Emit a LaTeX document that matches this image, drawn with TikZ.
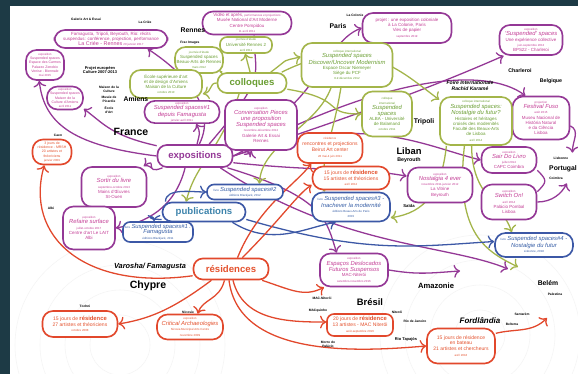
\documentclass[tikz,border=0pt]{standalone}
\usepackage{fontspec}
\setmainfont{Liberation Sans}
\usetikzlibrary{calc,arrows.meta}

\pgfdeclarelayer{fond}
\pgfdeclarelayer{liens}
\pgfsetlayers{fond,liens,main}

\definecolor{fondc}{RGB}{29,58,69}
\definecolor{expoc}{RGB}{148,56,150}
\definecolor{expot}{RGB}{196,62,150}
\definecolor{collc}{RGB}{163,181,74}
\definecolor{collt}{RGB}{106,158,50}
\definecolor{publc}{RGB}{60,88,166}
\definecolor{publt}{RGB}{52,92,165}
\definecolor{publh}{RGB}{62,132,172}
\definecolor{resic}{RGB}{226,72,44}
\definecolor{resit}{RGB}{228,82,46}

\newcommand{\dte}{\fontsize{2.5}{3}\selectfont}
\newcommand{\ttl}{\fontsize{5}{5.6}\selectfont\itshape}
\newcommand{\gros}{\fontsize{5}{5.6}\selectfont\bfseries}

\tikzset{
  bulle/.style={draw, fill=white, line width=1.4pt, rounded corners=9pt, align=center,
    inner sep=1pt, font=\fontsize{3.8}{4.5}\selectfont},
  plat/.style={rounded corners=6pt},
  taille/.style 2 args={minimum width=#1*0.03cm, minimum height=#2*0.03cm},
  expo/.style={bulle, draw=expoc, text=expot},
  coll/.style={bulle, draw=collc, text=collt},
  publ/.style={bulle, draw=publc, text=publt},
  resi/.style={bulle, draw=resic, text=resit, font=\fontsize{4.3}{5}\selectfont},
  petit/.style={font=\fontsize{3}{3.6}\selectfont},
  hub/.style={draw, fill=white, line width=1.4pt, rounded corners=8pt, inner sep=1pt,
    font=\fontsize{8.2}{9}\selectfont\bfseries},
  pays/.style={font=\fontsize{9}{10}\selectfont\bfseries},
  ville/.style={font=\fontsize{5.8}{6.5}\selectfont\bfseries, align=center},
  lieu/.style={font=\fontsize{2.8}{3.3}\selectfont\bfseries, align=center},
  lien/.style={line width=1.1pt, -{To[scale=1.3]}},
  lexpo/.style={lien, draw=expoc},
  lcoll/.style={lien, draw=collc},
  lpubl/.style={lien, draw=publc},
  lresi/.style={lien, draw=resic}
}

\begin{document}
\begin{tikzpicture}[x=0.03cm, y=-0.03cm]
  \useasboundingbox (0,0) rectangle (578,374);
  \begin{pgfonlayer}{fond}
    \fill[fondc] (0,0) rectangle (578,374);
    \fill[white] (10,6) rectangle (578,374);
    \begin{scope}
      \clip (10,6) rectangle (578,374);
      \foreach \r in {30,55,80,105}
        \draw[black!4, line width=0.5pt] (120,345) circle[radius=\r];
      \foreach \r in {25,50,75,100}
        \draw[black!4, line width=0.5pt] (480,335) circle[radius=\r];
    \end{scope}
  \end{pgfonlayer}

  % hubs
  \node[hub, draw=collc, text=collt, taille={69}{20}] (coll) at (252,83) {colloques};
  \node[hub, draw=expoc, text=expoc, taille={75}{22}] (expo) at (195,156) {expositions};
  \node[hub, draw=publc, text=publh, taille={83}{19}] (publi) at (204,212) {publications};
  \node[hub, draw=resic, text=resit, taille={75}{21}] (resi) at (231,269) {résidences};

  % expositions
  \node[expo, taille={113}{18}] (p1) at (111,39)
    {Famagusta, Tripoli, Beyrouth, Rio: récits\\suspendus: conférence, projection, performance\\{\fontsize{4.6}{5}\selectfont La Criée - Rennes} {\dte 20 janvier 2017}};
  \node[expo, petit, taille={38}{30}] (p2) at (45,65)
    {{\dte exposition}\\Suspended spaces\\Espace des Carmes\\Palazzo Zenobio\\Venise - Biennale\\{\dte mai 2015}};
  \node[expo, petit, taille={36}{23}] (p3) at (65,98)
    {{\dte exposition}\\Suspended spaces\\Maison de la\\Culture d'Amiens\\{\dte avril 2011}};
  \node[expo, taille={75}{22}] (p4) at (182,112)
    {{\dte exposition}\\{\ttl Suspended spaces\#1}\\{\ttl depuis Famagusta}\\{\dte janvier-avril 2011}};
  \node[expo, taille={89}{23}] (p5) at (247,23)
    {Vidéo et après, {\dte performances et projections}\\Musée National d'Art Moderne\\Centre Pompidou\\{\dte 11 avril 2011}};
  \node[expo, taille={72}{50}] (p6) at (261,125)
    {{\dte exposition}\\{\ttl Conversation Pieces}\\{\ttl une proposition}\\{\ttl Suspended spaces}\\{\dte novembre-décembre 2012}\\Galerie Art \& Essai\\Rennes};
  \node[expo, taille={89}{30}] (p7) at (407,28)
    {projet : une exposition coloniale\\à La Colonie, Paris\\Vies de papier\\{\dte septembre 2019}};
  \node[expo, taille={63}{30}] (p8) at (531,40)
    {{\dte exposition}\\{\ttl `Suspended' spaces}\\Une expérience collective\\{\dte juin-septembre 2013}\\BPS22 - Charleroi};
  \node[expo, taille={57}{43}] (p9) at (541,118)
    {{\dte projection}\\{\ttl Festival Fuso}\\{\dte août 2015}\\Museu Nacional de\\História Natural\\e da Ciência\\Lisboa};
  \node[expo, taille={55}{26}] (p10) at (509,160)
    {{\dte exposition}\\{\ttl Sair Do Livro}\\{\dte juillet 2014}\\CAPC Coimbra};
  \node[expo, taille={55}{35}] (p11) at (509,202)
    {{\dte exposition}\\{\ttl Switch On!}\\{\dte avril 2014}\\Palácio Pombal\\Lisboa};
  \node[expo, taille={65}{35}] (p12) at (440,185)
    {{\dte exposition}\\{\ttl Nostalgia 4 ever}\\{\dte novembre 2011-janvier 2012}\\La Vitrine\\Beyrouth};
  \node[expo, taille={65}{40}] (p13) at (114,187)
    {{\dte exposition}\\{\ttl Sortir du livre}\\{\dte septembre-octobre 2013}\\Mains d'Œuvres\\St-Ouen};
  \node[expo, taille={52}{43}] (p14) at (89,228)
    {{\dte exposition}\\{\ttl Refaire surface}\\{\dte juillet-octobre 2017}\\Centre d'art Le LAIT\\Albi};
  \node[expo, taille={68}{33}] (p15) at (354,270)
    {{\dte exposition}\\{\ttl Espaços Deslocados}\\{\ttl Futuros Suspensos}\\MAC-Niterói\\{\dte setembro-novembro 2016}};

  % colloques
  \node[coll, plat, taille={52}{16}] (g1) at (246,45)
    {{\dte journée d'étude}\\Université Rennes 2\\{\dte avril 2011}};
  \node[coll, taille={48}{26}] (g2) at (199,60)
    {{\dte journée d'étude}\\Suspended spaces\\Beaux-Arts de Rennes\\{\dte mars 2012}};
  \node[coll, taille={72}{28}] (g3) at (166,84)
    {École supérieure d'art\\et de design d'Amiens\\Maison de la Culture\\{\dte octobre 2010}};
  \node[coll, taille={91}{44}] (g4) at (347,65)
    {{\dte colloque international}\\{\ttl Suspended spaces}\\{\ttl Discover/Uncover Modernism}\\Espace Oscar Niemeyer\\Siège du PCF\\{\dte 8-9 décembre 2012}};
  \node[coll, taille={50}{45}] (g5) at (387,114)
    {{\dte colloque}\\{\dte international}\\{\ttl Suspended}\\{\ttl spaces}\\ALBA - Université\\de Balamand\\{\dte octobre 2011}};
  \node[coll, taille={72}{48}] (g6) at (476,121)
    {{\dte colloque international}\\{\ttl Suspended spaces:}\\{\ttl Nostalgie du futur?}\\Histoires et héritages\\croisés des modernités\\Faculté des Beaux-Arts\\de Lisboa\\{\dte avril 2014}};

  % publications
  \node[publ, plat, taille={70}{20}] (b1) at (158,232)
    {{\dte livre} {\ttl Suspended spaces\#1 :}\\{\ttl Famagusta}\\{\dte éditions Blackjack, 2011}};
  \node[publ, plat, taille={76}{15}] (b2) at (245,192)
    {{\dte livre} {\ttl Suspended spaces\#2}\\{\dte éditions Blackjack, 2012}};
  \node[publ, taille={78}{29}] (b3) at (351,207)
    {{\dte livre} {\ttl Suspended spaces\#3 -}\\{\ttl Inachever la modernité}\\{\dte éditions Beaux-Arts de Paris}\\{\dte 2015}};
  \node[publ, taille={78}{24}] (b4) at (534,245)
    {{\dte livre} {\ttl Suspended spaces\#4 -}\\{\ttl Nostalgie du futur}\\{\dte Lisbonne, 2018}};

  % residences
  \node[resi, taille={65}{30}] (r1) at (330,148)
    {{\dte résidence}\\rencontres et projections\\Beirut Art center\\{\dte 28 mai-4 juin 2011}};
  \node[resi, taille={77}{23}] (r2) at (351,178)
    {15 jours de {\gros résidence}\\15 artistes et théoriciens\\{\dte avril 2012}};
  \node[resi, petit, taille={39}{25}] (r3) at (52,152)
    {3 jours de\\résidence - MRSH\\20 artistes et\\théoriciens\\{\dte janvier 2009}};
  \node[resi, taille={75}{26}] (r4) at (80,324)
    {15 jours de {\gros résidence}\\27 artistes et théoriciens\\{\dte octobre 2008}};
  \node[resi, taille={66}{25}] (r5) at (190,327)
    {{\dte exposition}\\{\ttl Critical Archaeologies}\\{\dte Nicosia Municipal Arts Centre}\\{\dte novembre 2009}};
  \node[resi, plat, taille={66}{22}] (r6) at (360,325)
    {20 jours de {\gros résidence}\\13 artistes - MAC Niterói\\{\dte août-septembre 2016}};
  \node[resi, taille={68}{35}] (r7) at (461,346)
    {15 jours de résidence\\en bateau\\21 artistes et chercheurs\\{\dte avril 2018}};

  % lieux
  \node[pays] (france) at (131,132) {France};
  \node[pays] (chypre) at (148,286) {Chypre};
  \node[pays, font=\fontsize{8}{9}\selectfont\bfseries] (liban) at (409,151) {Liban};
  \node[pays, font=\fontsize{8}{9}\selectfont\bfseries] (bresil) at (370,302) {Brésil};
  \node[ville] (rennes) at (193,30) {Rennes};
  \node[ville] (paris) at (338,26) {Paris};
  \node[ville] (amiens) at (136,99) {Amiens};
  \node[ville] (tripoli) at (424,122) {Tripoli};
  \node[ville, font=\fontsize{4.3}{4.8}\selectfont\bfseries\itshape] (foire) at (470,86) {Foire Internationale\\Rachid Karamé};
  \node[ville, font=\fontsize{4.5}{5}\selectfont\bfseries] (charleroi) at (520,71) {Charleroi};
  \node[ville, font=\fontsize{4.5}{5}\selectfont\bfseries] (belgique) at (551,81) {Belgique};
  \node[ville] (portugal) at (563,169) {Portugal};
  \node[ville, font=\fontsize{4.5}{5}\selectfont\bfseries] (beyrouth) at (409,160) {Beyrouth};
  \node[ville, font=\fontsize{3.6}{4}\selectfont\bfseries] (saida) at (409,206) {Saïda};
  \node[ville, font=\fontsize{6.3}{7}\selectfont\bfseries\itshape] (varosha) at (150,267) {Varosha/ Famagusta};
  \node[ville, font=\fontsize{6.5}{7}\selectfont\bfseries] (amazonie) at (436,286) {Amazonie};
  \node[ville, font=\fontsize{6.8}{7}\selectfont\bfseries\itshape] (fordlandia) at (480,321) {Fordlândia};
  \node[ville] (belem) at (548,283) {Belém};
  \node[lieu] (galerie) at (86,19) {Galerie Art \& Essai};
  \node[lieu] (criee) at (145,22) {La Criée};
  \node[lieu] (colonie) at (355,15) {La Colonie};
  \node[lieu] (frac) at (190,43) {Frac Images};
  \node[lieu, font=\fontsize{3.4}{3.9}\selectfont\bfseries] (culture) at (100,70) {Projet européen\\Culture 2007-2013};
  \node[lieu] (maison) at (109,89) {Maison de la\\Culture};
  \node[lieu] (musee) at (109,99) {Musée de\\Picardie};
  \node[lieu] (ecole) at (109,110) {École\\d'Art};
  \node[lieu] (caen) at (58,135) {Caen};
  \node[lieu] (albi) at (51,208) {Albi};
  \node[lieu] (lisb) at (561,158) {Lisbonne};
  \node[lieu] (coimbra) at (556,178) {Coimbra};
  \node[lieu] (tochni) at (85,306) {Tochni};
  \node[lieu] (nicosie) at (188,312) {Nicosie};
  \node[lieu] (macniteroi) at (322,298) {MAC-Niterói};
  \node[lieu] (macquinho) at (318,311) {MACquinho};
  \node[lieu] (niteroi) at (397,312) {Niterói};
  \node[lieu] (rio) at (415,321) {Rio de Janeiro};
  \node[lieu] (morro) at (328,344) {Morro do\\Palácio};
  \node[lieu, font=\fontsize{3.4}{3.9}\selectfont\bfseries] (tapajos) at (406,339) {Rio Tapajós};
  \node[lieu] (santarem) at (522,314) {Santarém};
  \node[lieu] (belterra) at (512,324) {Belterra};
  \node[lieu] (palestina) at (555,294) {Palestina};

  \coordinate (fin1) at (460,271);
  \coordinate (fin2) at (508,269);
  \coordinate (fin3) at (518,267);
  \coordinate (fin4) at (547,318);

  \begin{pgfonlayer}{liens}
  % expositions
  \draw[lexpo] (expo.70) .. controls +(20,-40) and +(30,20) .. (p1.-15);
  \draw[lexpo] (expo.180) .. controls +(-80,-10) and +(5,45) .. (p2.-110);
  \draw[lexpo] (expo.165) .. controls +(-45,-10) and +(20,15) .. (p3.-30);
  \draw[lexpo] (expo.80) .. controls +(2,-10) and +(5,10) .. (p4.-40);
  \draw[lexpo] (expo.40) .. controls +(60,-70) and +(0,40) .. (p5.-60);
  \draw[lexpo] (expo.10) .. controls +(25,-2) and +(-5,15) .. (p6.-110);
  \draw[lexpo] (expo.20) .. controls +(90,-30) and +(-40,15) .. (p7.west);
  \draw[lexpo] (expo.east) .. controls +(120,-40) and +(-80,35) .. (p8.-150);
  \draw[lexpo] (expo.east) .. controls +(150,-80) and +(-40,-30) .. (p9.125);
  \draw[lexpo] (expo.east) .. controls +(130,-45) and +(-60,-15) .. (p10.west);
  \draw[lexpo] (expo.-10) .. controls +(100,10) and +(-60,-10) .. (p12.165);
  \draw[lexpo] (expo.200) .. controls +(-20,8) and +(15,-10) .. (p13.35);
  \draw[lexpo] (expo.-130) .. controls +(-10,40) and +(30,-5) .. (p14.east);
  \draw[lexpo] (expo.-20) .. controls +(100,30) and +(-10,-30) .. (p15.135);
  \draw[lexpo] (expo.-25) .. controls +(120,80) and +(-60,-25) .. (fin2);
  \draw[lexpo] (p15.east) .. controls +(30,5) and +(-30,2) .. (fin1);
  \draw[expoc, line width=1.1pt] (p10.-20) .. controls +(10,10) and +(10,-10) .. (p11.20);
  \draw[lexpo] (p11.east) .. controls +(15,0) and +(-5,10) .. (coimbra.south east);
  \draw[lexpo] (p9.-15) .. controls +(10,5) and +(0,-12) .. (lisb.north east);
  % colloques
  \draw[lcoll] (coll.100) -- (g1.-95);
  \draw[lcoll] (coll.160) .. controls +(-8,-5) and +(8,8) .. (g2.-30);
  \draw[lcoll] (coll.west) .. controls +(-8,0) and +(10,-2) .. (g3.-15);
  \draw[lcoll] (coll.30) .. controls +(20,-15) and +(-20,5) .. (g4.170);
  \draw[lcoll] (coll.-10) .. controls +(60,10) and +(-40,0) .. (g5.west);
  \draw[lcoll] (coll.20) .. controls +(80,-40) and +(-40,-30) .. (g6.150);
  \draw[lcoll] (coll.-140) .. controls +(-20,60) and +(10,-40) .. (publi.150);
  \draw[lcoll] (g4.-125) .. controls +(-15,40) and +(2,-40) .. (b2.30);
  \draw[lcoll] (g4.-105) .. controls +(-8,50) and +(-5,-30) .. (b3.150);
  \draw[lcoll] (g6.-140) .. controls +(-5,45) and +(35,-5) .. (b3.-15);
  \draw[lcoll] (g6.-100) .. controls +(0,50) and +(-10,-30) .. (b4.150);
  \draw[lcoll] (g6.-115) .. controls +(-10,90) and +(-30,-15) .. (fin3);
  % publications
  \draw[lpubl] (publi.-170) .. controls +(-20,0) and +(0,-8) .. (b1.110);
  \draw[lpubl] (publi.165) .. controls +(0,-14) and +(-15,0) .. (b2.west);
  \draw[lpubl] (publi.-20) .. controls +(40,25) and +(-30,5) .. (b3.-135);
  \draw[lpubl] (publi.-10) .. controls +(120,35) and +(-80,5) .. (b4.175);
  % residences
  \draw[lresi] (resi.60) .. controls +(20,-50) and +(-15,20) .. (r1.-140);
  \draw[lresi] (resi.45) .. controls +(40,-40) and +(-15,10) .. (r2.-170);
  \draw[lresi] (resi.190) .. controls +(-110,15) and +(-20,70) .. (r3.-120);
  \draw[lresi] (resi.-150) .. controls +(-40,30) and +(30,-5) .. (r4.east);
  \draw[lresi] (resi.-120) .. controls +(-5,20) and +(5,-15) .. (r5.60);
  \draw[lresi] (resi.-80) .. controls +(10,40) and +(-40,0) .. (r6.175);
  \draw[lresi] (resi.-20) .. controls +(30,10) and +(-20,10) .. (p15.-150);
  \draw[lresi] (resi.-100) .. controls +(10,80) and +(-60,5) .. (r7.west);
  \draw[lresi] (r7.20) .. controls +(20,-5) and +(-15,15) .. (fin4);
  \end{pgfonlayer}
\end{tikzpicture}
\end{document}
